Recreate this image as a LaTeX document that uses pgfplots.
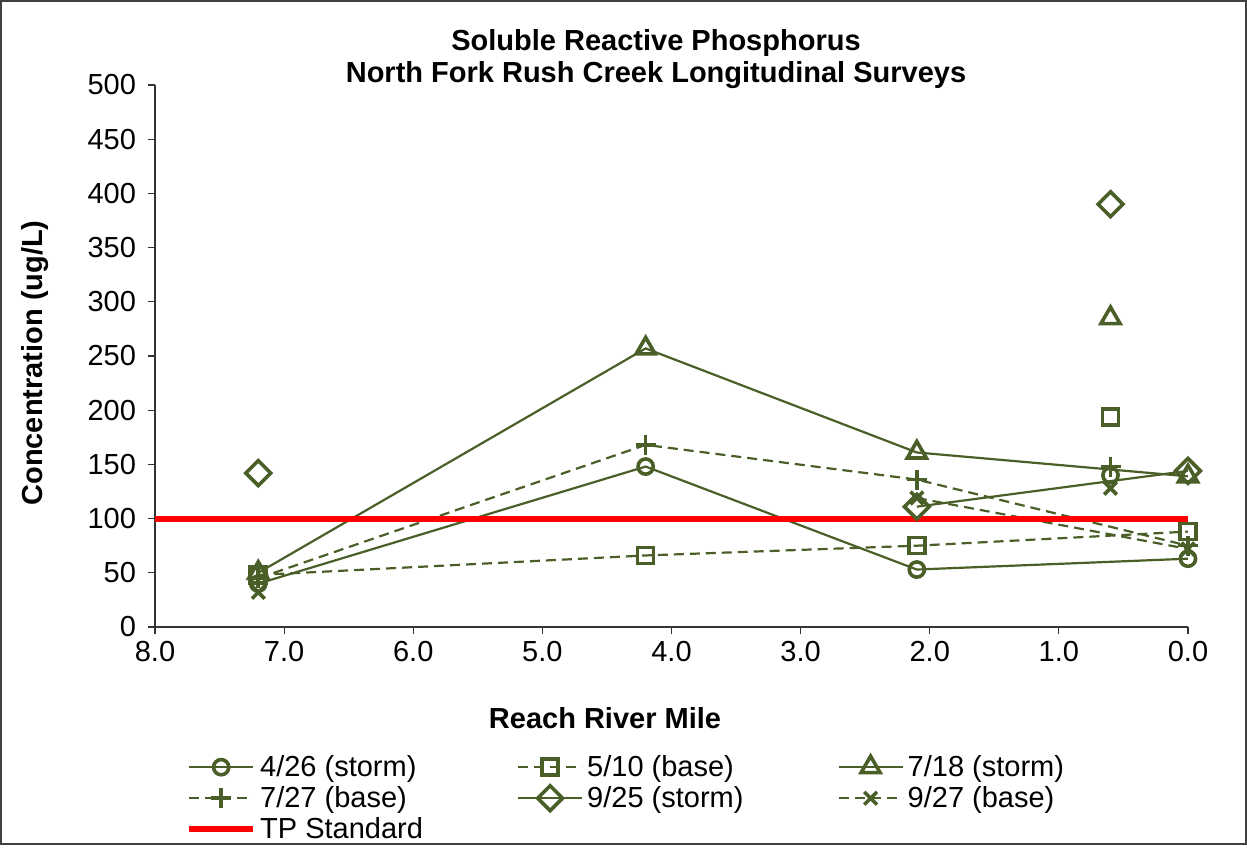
\documentclass[border=0pt]{standalone}
\usepackage{pgfplots}
\pgfplotsset{compat=1.18}
\usepackage{fontspec}
\setmainfont{Liberation Sans}
\definecolor{olivegr}{HTML}{4A5F28}
\definecolor{tpred}{HTML}{FF0000}
\newcommand{\chartfont}{\fontsize{14.5}{16}\selectfont}

\begin{document}
\begin{tikzpicture}[x=1pt,y=1pt]
\draw[black!75, line width=0.8pt] (0.4,0.4) rectangle (623.1,422.1);
\node[align=center, font=\chartfont\bfseries] at (328,393) {Soluble Reactive Phosphorus\\North Fork Rush Creek Longitudinal Surveys};
\node[rotate=90, font=\chartfont\bfseries] at (17.5,241) {Concentration (ug/L)};
\node[font=\chartfont\bfseries] at (302.5,63.5) {Reach River Mile};
\begin{axis}[
  at={(77.5pt,109pt)}, anchor=south west,
  scale only axis, width=516.5pt, height=271pt,
  xmin=0, xmax=8, x dir=reverse, ymin=0, ymax=500,
  xtick={0,1,...,8}, ytick={0,50,...,500},
  axis lines*=left, tick align=outside, major tick length=3.5pt,
  axis line style={black!80, line width=0.6pt},
  tick style={black!80, line width=0.6pt},
  /pgf/number format/assume math mode=true,
  ticklabel style={font=\chartfont},
  xticklabel style={/pgf/number format/.cd, fixed, fixed zerofill, precision=1},
  yticklabel style={xshift=-2.5pt},
  unbounded coords=jump,
  legend columns=3,
  legend cell align=left,
  legend style={at={(0.024,-0.221)}, anchor=north west, draw=none, fill=none,
    font=\chartfont, row sep=-0.5pt,
    /tikz/every even column/.append style={column sep=45pt}},
  legend image code/.code={\draw[mark repeat=2,mark phase=2] plot coordinates {(0pt,0pt) (16pt,0pt) (32pt,0pt)};},
  every axis plot/.append style={olivegr, line width=1.1pt},
  mk/.style={mark options={solid, line width=1.8pt, #1}},
  mk/.default={},
  dsh/.style={dash pattern=on 5pt off 3pt},
]
% main surveys
\addplot[solid, mark=o, mark size=3.8pt, mk] coordinates {(7.2,40) (4.2,148) (2.1,53) (0.0,63)};
\addlegendentry{4/26 (storm)}
\addplot[dsh, mark=square, mark size=4pt, mk] coordinates {(7.2,48) (4.2,66) (2.1,75) (0.0,88)};
\addlegendentry{5/10 (base)}
\addplot[solid, mark=triangle, mark size=5.5pt, mk] coordinates {(7.2,50) (4.2,257) (2.1,161) (0.0,139)};
\addlegendentry{7/18 (storm)}
\addplot[dsh, mark=+, mark size=5pt, mk] coordinates {(7.2,45) (4.2,168) (2.1,136) (0.0,75)};
\addlegendentry{7/27 (base)}
\addplot[solid, mark=square, mark size=4.4pt, mk={rotate=45}] coordinates {(7.2,142) (4.2,nan) (2.1,111) (0.0,144)};
\addlegendentry{9/25 (storm)}
\addplot[dsh, mark=x, mark size=4.5pt, mk] coordinates {(7.2,32) (4.2,nan) (2.1,119) (0.0,72)};
\addlegendentry{9/27 (base)}
% mile 0.6 samples, not joined
\addplot[only marks, mark=o, mark size=3.8pt, mk, forget plot] coordinates {(0.6,140)};
\addplot[only marks, mark=square, mark size=4pt, mk, forget plot] coordinates {(0.6,194)};
\addplot[only marks, mark=triangle, mark size=5.5pt, mk, forget plot] coordinates {(0.6,285)};
\addplot[only marks, mark=+, mark size=5pt, mk, forget plot] coordinates {(0.6,148)};
\addplot[only marks, mark=square, mark size=4.4pt, mk={rotate=45}, forget plot] coordinates {(0.6,390)};
\addplot[only marks, mark=x, mark size=4.5pt, mk, forget plot] coordinates {(0.6,128)};
% standard
\addplot[tpred, line width=3pt, no marks] coordinates {(8,100) (0,100)};
\addlegendentry{TP Standard}
\end{axis}
\end{tikzpicture}
\end{document}
